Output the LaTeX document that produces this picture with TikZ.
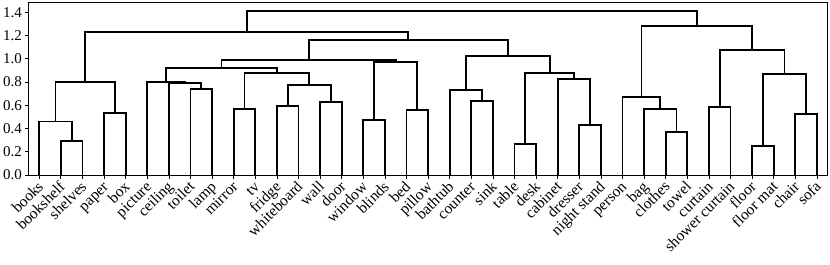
\documentclass[tikz,border=0pt]{standalone}
\usepackage{fontspec}
\setmainfont{Liberation Serif}
\begin{document}
\begin{tikzpicture}[x=2.16pt, y=116.25pt,
  link/.style={line width=1.8pt, black, line join=miter},
  frame/.style={line width=0.8pt, black},
  tickmark/.style={line width=0.8pt, black},
  leaflabel/.style={anchor=north east, rotate=45, inner sep=0pt, text height=0.7em, font=\fontsize{15.5}{17}\selectfont},
  ticklabel/.style={anchor=east, inner sep=0pt, font=\fontsize{15}{17}\selectfont}]
\useasboundingbox (-13.194,-0.76559) rectangle (371.065,1.50538);
% frame
\draw[frame] (0,0) rectangle (370,1.482);
% y ticks
\foreach \v [count=\k] in {0.0,0.2,0.4,0.6,0.8,1.0,1.2,1.4} {
  \coordinate (y\k) at (0,\v);
  \coordinate (ye\k) at ([xshift=-3.5pt]y\k);
  \draw[tickmark] (y\k) -- (ye\k);
  \node[ticklabel] (yl\k) at ([xshift=-3pt]ye\k) {\v};
}
% leaves
\foreach \n [count=\i] in {books,bookshelf,shelves,paper,box,picture,ceiling,toilet,lamp,mirror,tv,fridge,whiteboard,wall,door,window,blinds,bed,pillow,bathtub,counter,sink,table,desk,cabinet,dresser,night stand,person,bag,clothes,towel,curtain,shower curtain,floor,floor mat,chair,sofa} {
  \coordinate (l\i) at (10*\i-5,0);
  \coordinate (le\i) at ([yshift=-3.5pt]l\i);
  \draw[tickmark] (l\i) -- (le\i);
  \node[leaflabel] (t\i) at ([yshift=-7.5pt]l\i) {\n};
}
% merges
\coordinate (mA) at (20,0.290);   \draw[link] (l2) |- (mA) -| (l3);
\coordinate (mB) at (12.5,0.460); \draw[link] (l1) |- (mB) -| (mA);
\coordinate (mC) at (40,0.530);   \draw[link] (l4) |- (mC) -| (l5);
\coordinate (mD) at (26.25,0.800); \draw[link] (mB) |- (mD) -| (mC);
\coordinate (mE) at (80,0.737);   \draw[link] (l8) |- (mE) -| (l9);
\coordinate (mF) at (72.5,0.789); \draw[link] (l7) |- (mF) -| (mE);
\coordinate (mG) at (63.75,0.803); \draw[link] (l6) |- (mG) -| (mF);
\coordinate (mH) at (100,0.568);  \draw[link] (l10) |- (mH) -| (l11);
\coordinate (mI) at (120,0.596);  \draw[link] (l12) |- (mI) -| (l13);
\coordinate (mJ) at (140,0.625);  \draw[link] (l14) |- (mJ) -| (l15);
\coordinate (mK) at (130,0.777);  \draw[link] (mI) |- (mK) -| (mJ);
\coordinate (mM) at (115,0.875);  \draw[link] (mH) |- (mM) -| (mK);
\coordinate (mN) at (89.375,0.918); \draw[link] (mG) |- (mN) -| (mM);
\coordinate (mO) at (160,0.470);  \draw[link] (l16) |- (mO) -| (l17);
\coordinate (mP) at (180,0.559);  \draw[link] (l18) |- (mP) -| (l19);
\coordinate (mQ) at (170,0.969);  \draw[link] (mO) |- (mQ) -| (mP);
\coordinate (mR) at (129.6875,0.986); \draw[link] (mN) |- (mR) -| (mQ);
\coordinate (mS) at (210,0.634);  \draw[link] (l21) |- (mS) -| (l22);
\coordinate (mT) at (202.5,0.728); \draw[link] (l20) |- (mT) -| (mS);
\coordinate (mU) at (230,0.267);  \draw[link] (l23) |- (mU) -| (l24);
\coordinate (mV) at (260,0.430);  \draw[link] (l26) |- (mV) -| (l27);
\coordinate (mW) at (252.5,0.823); \draw[link] (l25) |- (mW) -| (mV);
\coordinate (mX) at (241.25,0.880); \draw[link] (mU) |- (mX) -| (mW);
\coordinate (mY) at (221.875,1.024); \draw[link] (mT) |- (mY) -| (mX);
\coordinate (mZ) at (175.78125,1.158); \draw[link] (mR) |- (mZ) -| (mY);
\coordinate (mAA) at (101.015625,1.227); \draw[link] (mD) |- (mAA) -| (mZ);
\coordinate (mBB) at (300,0.373); \draw[link] (l30) |- (mBB) -| (l31);
\coordinate (mCC) at (292.5,0.565); \draw[link] (l29) |- (mCC) -| (mBB);
\coordinate (mDD) at (283.75,0.674); \draw[link] (l28) |- (mDD) -| (mCC);
\coordinate (mEE) at (320,0.588); \draw[link] (l32) |- (mEE) -| (l33);
\coordinate (mFF) at (340,0.252); \draw[link] (l34) |- (mFF) -| (l35);
\coordinate (mGG) at (360,0.527); \draw[link] (l36) |- (mGG) -| (l37);
\coordinate (mHH) at (350,0.872); \draw[link] (mFF) |- (mHH) -| (mGG);
\coordinate (mII) at (335,1.072); \draw[link] (mEE) |- (mII) -| (mHH);
\coordinate (mJJ) at (309.375,1.282); \draw[link] (mDD) |- (mJJ) -| (mII);
\coordinate (mroot) at (205.2,1.413); \draw[link] (mAA) |- (mroot) -| (mJJ);
\end{tikzpicture}
\end{document}
